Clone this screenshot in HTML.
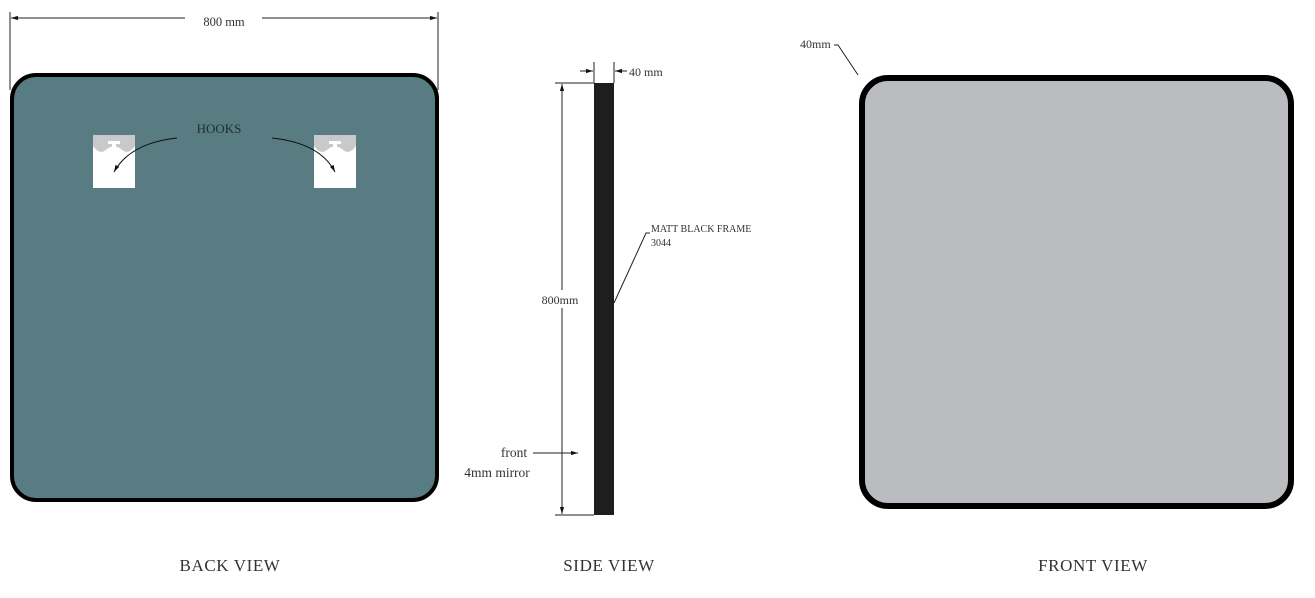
<!DOCTYPE html>
<html><head><meta charset="utf-8"><style>
html,body{margin:0;padding:0;background:#fff;width:1315px;height:598px;overflow:hidden}
text{font-family:"Liberation Serif",serif;fill:#333}
</style></head><body>
<svg width="1315" height="598" viewBox="0 0 1315 598" xmlns="http://www.w3.org/2000/svg">
<defs>
<marker id="a" viewBox="0 0 10 10" refX="10" refY="5" markerWidth="7" markerHeight="7" orient="auto-start-reverse"><path d="M0,2 L10,5 L0,8z" fill="#111"/></marker>
</defs>
<!-- BACK VIEW -->
<line x1="10" y1="12" x2="10" y2="90" stroke="#222" stroke-width="1"/>
<line x1="438" y1="12" x2="438" y2="90" stroke="#222" stroke-width="1"/>
<line x1="11" y1="18" x2="185" y2="18" stroke="#222" stroke-width="1" marker-start="url(#a)"/>
<line x1="262" y1="18" x2="437" y2="18" stroke="#222" stroke-width="1" marker-end="url(#a)"/>
<text x="224" y="26" font-size="12.5" text-anchor="middle">800 mm</text>
<rect x="12" y="75" width="425" height="425" rx="24" fill="#587c82" stroke="#000" stroke-width="4"/>
<!-- hooks -->
<g>
<rect x="93" y="135" width="42" height="53" fill="#fff"/>
<path d="M93,135 H135 V146 Q128,156 121,149 Q114,144 107,149 Q100,156 93,146Z" fill="#c8c9cb"/>
<rect x="108" y="141" width="12" height="3" fill="#fff"/><rect x="112" y="143" width="4" height="7" fill="#fff"/>
<rect x="314" y="135" width="42" height="53" fill="#fff"/>
<path d="M314,135 H356 V146 Q349,156 342,149 Q335,144 328,149 Q321,156 314,146Z" fill="#c8c9cb"/>
<rect x="329" y="141" width="12" height="3" fill="#fff"/><rect x="333" y="143" width="4" height="7" fill="#fff"/>
</g>
<text x="219" y="133" font-size="13" text-anchor="middle" style="fill:#1d2e33">HOOKS</text>
<path d="M177,138 Q130,143 114,172" fill="none" stroke="#111" stroke-width="1" marker-end="url(#a)"/>
<path d="M272,138 Q320,143 335,172" fill="none" stroke="#111" stroke-width="1" marker-end="url(#a)"/>
<!-- SIDE VIEW -->
<rect x="594" y="83" width="20" height="432" fill="#1e1e1e"/>
<line x1="594" y1="62" x2="594" y2="83" stroke="#222"/>
<line x1="614" y1="62" x2="614" y2="83" stroke="#222"/>
<line x1="580" y1="71" x2="593" y2="71" stroke="#222" marker-end="url(#a)"/>
<line x1="627" y1="71" x2="615" y2="71" stroke="#222" marker-end="url(#a)"/>
<text x="629" y="76" font-size="12">40 mm</text>
<line x1="555" y1="83" x2="594" y2="83" stroke="#222"/>
<line x1="555" y1="515" x2="594" y2="515" stroke="#222"/>
<line x1="562" y1="290" x2="562" y2="84" stroke="#222" marker-end="url(#a)"/>
<line x1="562" y1="308" x2="562" y2="514" stroke="#222" marker-end="url(#a)"/>
<text x="560" y="304" font-size="12" text-anchor="middle">800mm</text>
<text x="514" y="457" font-size="13.5" text-anchor="middle">front</text>
<line x1="533" y1="453" x2="578" y2="453" stroke="#222" marker-end="url(#a)"/>
<text x="497" y="477" font-size="13.5" text-anchor="middle">4mm mirror</text>
<polyline points="614,303 646,233 650,233" fill="none" stroke="#222"/>
<text x="651" y="232" font-size="10">MATT BLACK FRAME</text>
<text x="651" y="246" font-size="10">3044</text>
<!-- FRONT VIEW -->
<rect x="862" y="78" width="429" height="428" rx="26" fill="#bbbcc0" stroke="#000" stroke-width="6"/>
<text x="800" y="48" font-size="12">40mm</text>
<polyline points="834,45 838,45 858,75" fill="none" stroke="#222"/>
<!-- labels -->
<text x="230" y="571" font-size="17" letter-spacing="0.6" text-anchor="middle">BACK VIEW</text>
<text x="609" y="571" font-size="17" letter-spacing="0.6" text-anchor="middle">SIDE VIEW</text>
<text x="1093" y="571" font-size="17" letter-spacing="0.6" text-anchor="middle">FRONT VIEW</text>
</svg>
</body></html>
